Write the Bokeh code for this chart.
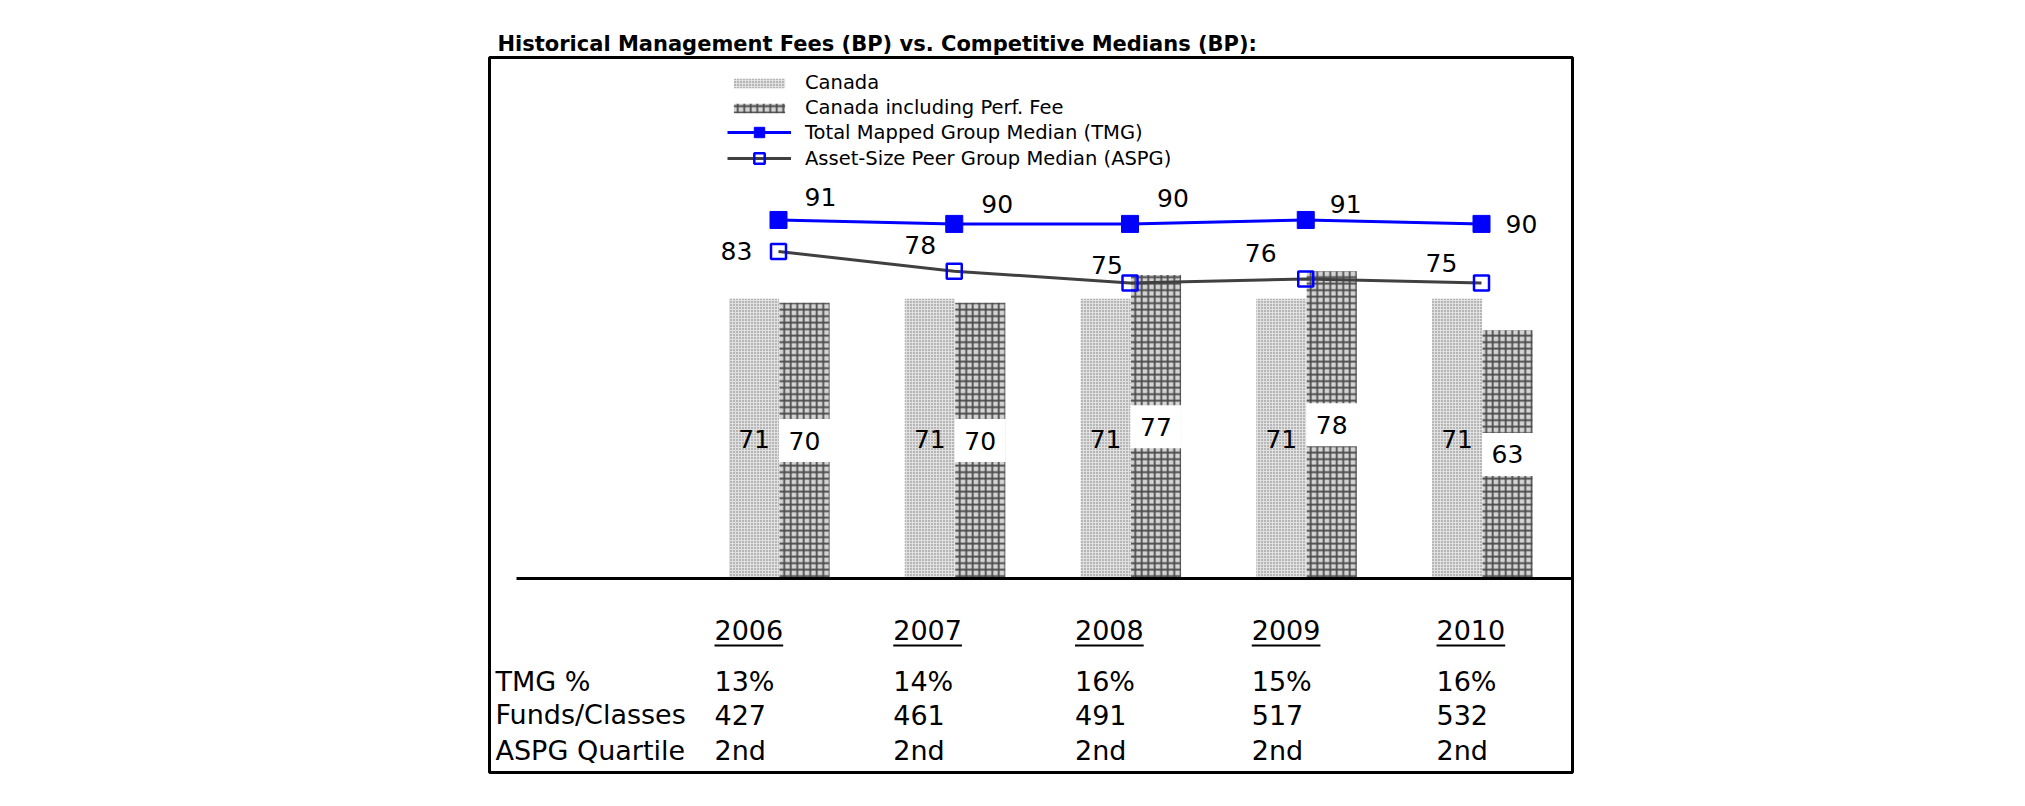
from bokeh.plotting import figure
from bokeh.models import ColumnDataSource, Range1d, Legend, LegendItem
from bokeh.transform import dodge
from bokeh.core.properties import value
from bokeh.embed import file_html
from bokeh.resources import INLINE

# ---------------- data ----------------
years = ["2006", "2007", "2008", "2009", "2010"]
canada = [71, 71, 71, 71, 71]
canada_incl_perf = [70, 70, 77, 78, 63]
tmg_median = [91, 90, 90, 91, 90]
aspg_median = [83, 78, 75, 76, 75]
tmg_pct = ["13%", "14%", "16%", "15%", "16%"]
funds_classes = ["427", "461", "491", "517", "532"]
aspg_quartile = ["2nd", "2nd", "2nd", "2nd", "2nd"]
row_labels = ["TMG %", "Funds/Classes", "ASPG Quartile"]
title_text = "Historical Management Fees (BP) vs. Competitive Medians (BP):"
legend_labels = ["Canada", "Canada including Perf. Fee",
                 "Total Mapped Group Median (TMG)", "Asset-Size Peer Group Median (ASPG)"]

# ---------------- layout (pixels) ----------------
W, H = 2025, 806
FL, FR, FT, FB = 489, 1572, 57, 772     # frame box
GROUP0, PITCH = 778, 175.75              # first group centre, group pitch
BASE, PXU = 578, 3.94                    # baseline pixel, px per unit
FONT = "DejaVu Sans"

x_start = (FL - GROUP0) / PITCH
x_end = (FR - GROUP0) / PITCH
y_end = (BASE - FT) / PXU
y_start = -(FB - BASE) / PXU

idx = list(range(len(years)))
BAR_W = 0.285
OFF_C = -0.139
OFF_I = 0.148

# label offsets (style)
tmg_dx = [42, 43, 43, 40, 40]
tmg_dy = [-23, -20, -26, -16, 0]
aspg_dx = [-42, -34, -23, -45, -40]
aspg_dy = [0, -26, -18, -26, -20]
col_dx = [-64, -61, -55, -54, -45]
row_dy = {"years": 51, "tmg": 103, "funds": 136, "aspg": 172}
TFS_PX = 27
TFS = f"{TFS_PX}px"

src = ColumnDataSource(dict(
    idx=idx, years=years,
    canada=canada, incl=canada_incl_perf,
    canada_mid=[v / 2 for v in canada], incl_mid=[v / 2 for v in canada_incl_perf],
    canada_txt=[str(v) for v in canada], incl_txt=[str(v) for v in canada_incl_perf],
    tmg=tmg_median, aspg=aspg_median,
    tmg_txt=[str(v) for v in tmg_median], aspg_txt=[str(v) for v in aspg_median],
    tmg_dx=tmg_dx, tmg_dy=tmg_dy, aspg_dx=aspg_dx, aspg_dy=aspg_dy,
    col_dx=col_dx, zero=[0] * len(years),
    tmg_pct=tmg_pct, funds=funds_classes, quart=aspg_quartile,
))

p = figure(width=W, height=H, output_backend="svg", toolbar_location=None,
           x_range=Range1d(x_start, x_end), y_range=Range1d(y_start, y_end),
           x_axis_type=None, y_axis_type=None,
           min_border_left=FL, min_border_right=W - FR,
           min_border_top=FT, min_border_bottom=H - FB)
p.grid.visible = False
p.outline_line_color = "black"
p.outline_line_width = 3
p.background_fill_color = "white"
p.border_fill_color = "white"

p.title.text = title_text
p.title.text_font = FONT
p.title.text_font_size = "21px"
p.title.text_font_style = "bold"
p.title.text_color = "black"
p.title.align = "left"
p.title.offset = 8
p.title.standoff = 3

# bars
r_can = p.vbar(x=dodge("idx", OFF_C, range=p.x_range), top="canada", width=BAR_W, source=src,
               fill_color="#e0e0e0", hatch_pattern="dot", hatch_scale=3, hatch_weight=1.6,
               hatch_color="#787878", line_color=None)
r_inc = p.vbar(x=dodge("idx", OFF_I, range=p.x_range), top="incl", width=BAR_W, source=src,
               fill_color="#d4d4d4", hatch_pattern="cross", hatch_scale=6.5, hatch_weight=1.8,
               hatch_color="#4a4a4a", line_color=None)

# baseline (starts a little inside the box, as in the original)
p.segment(x0=[x_start + 27 / PITCH], y0=[0], x1=[x_end], y1=[0],
          line_color="black", line_width=3)

# bar labels
p.rect(x=dodge("idx", OFF_I, range=p.x_range), y="incl_mid", width=BAR_W * 1.02, height=43,
       height_units="screen", source=src, fill_color="white", line_color=None)
p.text(x=dodge("idx", OFF_I, range=p.x_range), y="incl_mid", text="incl_txt", source=src,
       text_font=value(FONT), text_font_size="25px", text_align="center",
       text_baseline="middle", text_color="black")
p.text(x=dodge("idx", OFF_C, range=p.x_range), y="canada_mid", text="canada_txt", source=src,
       text_font=value(FONT), text_font_size="25px", text_align="center",
       text_baseline="middle", text_color="black")

# lines
r_tl = p.line("idx", "tmg", source=src, line_color="#0000ff", line_width=3)
r_tm = p.scatter("idx", "tmg", source=src, marker="square", size=17,
                 fill_color="#0000ff", line_color="#0000ff")
r_al = p.line("idx", "aspg", source=src, line_color="#404040", line_width=3)
r_am = p.scatter("idx", "aspg", source=src, marker="square", size=15,
                 fill_alpha=0, line_color="#0000ff", line_width=2.5)

p.text(x="idx", y="tmg", text="tmg_txt", x_offset="tmg_dx", y_offset="tmg_dy", source=src,
       text_font=value(FONT), text_font_size="25px", text_align="center",
       text_baseline="middle", text_color="black")
p.text(x="idx", y="aspg", text="aspg_txt", x_offset="aspg_dx", y_offset="aspg_dy", source=src,
       text_font=value(FONT), text_font_size="25px", text_align="center",
       text_baseline="middle", text_color="black")

# legends
LEG_X = 727 - FL
leg_common = dict(glyph_width=64, spacing=0, padding=0, margin=0, label_standoff=14,
                  border_line_color=None, background_fill_alpha=0,
                  label_text_font=FONT, label_text_font_size="19.5px", label_text_color="black")
leg_a = Legend(items=[LegendItem(label=legend_labels[0], renderers=[r_can]),
                      LegendItem(label=legend_labels[1], renderers=[r_inc])],
               location=(LEG_X, FB - 120), glyph_height=12, label_height=25, **leg_common)
leg_b = Legend(items=[LegendItem(label=legend_labels[2], renderers=[r_tl, r_tm]),
                      LegendItem(label=legend_labels[3], renderers=[r_al, r_am])],
               location=(LEG_X, FB - 171), glyph_height=26, label_height=26, **leg_common)
p.add_layout(leg_a)
p.add_layout(leg_b)

# table below chart
p.text(x="idx", y="zero", text="years", x_offset="col_dx", y_offset=row_dy["years"], source=src,
       text_font=value(FONT), text_font_size=TFS, text_align="left", text_baseline="middle")
UL_W = 4 * 0.636 * TFS_PX
ul_x = [i + (dx + UL_W / 2) / PITCH for i, dx in zip(idx, col_dx)]
p.rect(x=ul_x, y=[-(row_dy["years"] + 16) / PXU] * len(idx), width=UL_W, width_units="screen",
       height=2, height_units="screen", fill_color="black", line_color=None)
for col, key in (("tmg_pct", "tmg"), ("funds", "funds"), ("quart", "aspg")):
    p.text(x="idx", y="zero", text=col, x_offset="col_dx", y_offset=row_dy[key], source=src,
           text_font=value(FONT), text_font_size=TFS, text_align="left", text_baseline="middle")
p.text(x=[x_start] * 3, y=[0] * 3, text=row_labels, x_offset=6,
       y_offset=[row_dy["tmg"], row_dy["funds"], row_dy["aspg"]],
       text_font=value(FONT), text_font_size=TFS, text_align="left", text_baseline="middle")

open("out.html", "w").write(file_html(p, INLINE))
